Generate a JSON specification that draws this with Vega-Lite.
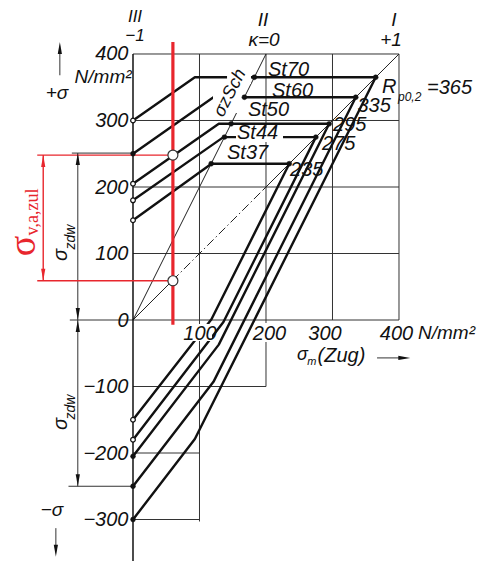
{
  "$schema": "https://vega.github.io/schema/vega-lite/v6.json",
  "width": 478,
  "height": 561,
  "autosize": {"type": "none"},
  "padding": 0,
  "background": "white",
  "config": {"view": {"stroke": null}},
  "datasets": {
    "grid": [
      {"x": 0, "y": 400, "x2": 400, "y2": 400},
      {"x": 0, "y": 300, "x2": 400, "y2": 300},
      {"x": 0, "y": 200, "x2": 400, "y2": 200},
      {"x": 0, "y": 100, "x2": 400, "y2": 100},
      {"x": -95, "y": 0, "x2": 400, "y2": 0},
      {"x": 0, "y": -100, "x2": 200, "y2": -100},
      {"x": 0, "y": -200, "x2": 100, "y2": -200},
      {"x": 0, "y": -300, "x2": 100, "y2": -300},
      {"x": 100, "y": -303, "x2": 100, "y2": 400},
      {"x": 200, "y": -100, "x2": 200, "y2": 400},
      {"x": 300, "y": 0, "x2": 300, "y2": 400},
      {"x": 400, "y": 0, "x2": 400, "y2": 400},
      {"x": -92, "y": 251, "x2": 0, "y2": 251},
      {"x": -97, "y": -250, "x2": 0, "y2": -250},
      {"x": -83, "y": 251, "x2": -83, "y2": -250},
      {"x": -110, "y": 368, "x2": -110, "y2": 405},
      {"x": -116, "y": -313, "x2": -116, "y2": -345},
      {"x": 367, "y": -57, "x2": 402, "y2": -57}
    ],
    "axisline": [
      {"x": 0, "y": -365, "x2": 0, "y2": 400}
    ],
    "thin": [
      {"x": 0, "y": 0, "x2": 200, "y2": 400},
      {"x": 0, "y": 0, "x2": 59, "y2": 59},
      {"x": 195, "y": 195, "x2": 400, "y2": 400}
    ],
    "dashed": [
      {"x": 59, "y": 59, "x2": 195, "y2": 195}
    ],
    "redmain": [
      {"x": 60, "y": -7, "x2": 60, "y2": 418}
    ],
    "reddim": [
      {"x": -144, "y": 248, "x2": 60, "y2": 248},
      {"x": -144, "y": 59, "x2": 60, "y2": 59},
      {"x": -135, "y": 248, "x2": -135, "y2": 59}
    ],
    "steel": [
      {"steel": "St70", "part": "o", "ord": 1, "x": 0, "y": 300},
      {"steel": "St70", "part": "o", "ord": 2, "x": 93, "y": 365},
      {"steel": "St70", "part": "o", "ord": 3, "x": 365, "y": 365},
      {"steel": "St70", "part": "u", "ord": 1, "x": 0, "y": -300},
      {"steel": "St70", "part": "u", "ord": 2, "x": 93, "y": -179},
      {"steel": "St70", "part": "u", "ord": 3, "x": 365, "y": 365},
      {"steel": "St60", "part": "o", "ord": 1, "x": 0, "y": 250},
      {"steel": "St60", "part": "o", "ord": 2, "x": 121, "y": 335},
      {"steel": "St60", "part": "o", "ord": 3, "x": 335, "y": 335},
      {"steel": "St60", "part": "u", "ord": 1, "x": 0, "y": -250},
      {"steel": "St60", "part": "u", "ord": 2, "x": 121, "y": -93},
      {"steel": "St60", "part": "u", "ord": 3, "x": 335, "y": 335},
      {"steel": "St50", "part": "o", "ord": 1, "x": 0, "y": 205},
      {"steel": "St50", "part": "o", "ord": 2, "x": 129, "y": 295},
      {"steel": "St50", "part": "o", "ord": 3, "x": 295, "y": 295},
      {"steel": "St50", "part": "u", "ord": 1, "x": 0, "y": -205},
      {"steel": "St50", "part": "u", "ord": 2, "x": 129, "y": -37},
      {"steel": "St50", "part": "u", "ord": 3, "x": 295, "y": 295},
      {"steel": "St44", "part": "o", "ord": 1, "x": 0, "y": 180},
      {"steel": "St44", "part": "o", "ord": 2, "x": 136, "y": 275},
      {"steel": "St44", "part": "o", "ord": 3, "x": 275, "y": 275},
      {"steel": "St44", "part": "u", "ord": 1, "x": 0, "y": -180},
      {"steel": "St44", "part": "u", "ord": 2, "x": 136, "y": -3},
      {"steel": "St44", "part": "u", "ord": 3, "x": 275, "y": 275},
      {"steel": "St37", "part": "o", "ord": 1, "x": 0, "y": 150},
      {"steel": "St37", "part": "o", "ord": 2, "x": 118, "y": 235},
      {"steel": "St37", "part": "o", "ord": 3, "x": 235, "y": 235},
      {"steel": "St37", "part": "u", "ord": 1, "x": 0, "y": -150},
      {"steel": "St37", "part": "u", "ord": 2, "x": 118, "y": 1},
      {"steel": "St37", "part": "u", "ord": 3, "x": 235, "y": 235}
    ],
    "masks": [
      {"x": 141.4, "y": 375.9, "x2": 177.4, "y2": 354.9},
      {"x": 120.3, "y": 353.4, "x2": 166.9, "y2": 311.3},
      {"x": 154.9, "y": 288.7, "x2": 225.6, "y2": 267.7},
      {"x": 82.7, "y": -6, "x2": 118.8, "y2": -31.6},
      {"x": 182, "y": -4.5, "x2": 227, "y2": -33}
    ],
    "soliddots": [
      {"x": 182.5, "y": 365}, {"x": 167.5, "y": 335}, {"x": 147.5, "y": 295}, {"x": 137.5, "y": 275}, {"x": 117.5, "y": 235},
      {"x": 365, "y": 365}, {"x": 335, "y": 335}, {"x": 295, "y": 295}, {"x": 275, "y": 275}, {"x": 235, "y": 235},
      {"x": 0, "y": 250}, {"x": 0, "y": -205}, {"x": 0, "y": -250}, {"x": 0, "y": -300}
    ],
    "opendots": [
      {"x": 0, "y": 300}, {"x": 0, "y": 205}, {"x": 0, "y": 180}, {"x": 0, "y": 150},
      {"x": 0, "y": -150}, {"x": 0, "y": -180}
    ],
    "redcircles": [
      {"x": 60, "y": 248}, {"x": 60, "y": 59}
    ],
    "blackarrows": [
      {"x": -83, "y": 242, "dir": "up"},
      {"x": -83, "y": 9, "dir": "down"},
      {"x": -83, "y": -9, "dir": "up"},
      {"x": -83, "y": -241, "dir": "down"},
      {"x": -110, "y": 409, "dir": "up"},
      {"x": -116, "y": -347, "dir": "down"},
      {"x": 408, "y": -57, "dir": "right"}
    ],
    "redarrows": [
      {"x": -135, "y": 239, "dir": "up"},
      {"x": -135, "y": 68, "dir": "down"}
    ],
    "centerlabels": [
      {"x": 195.5, "y": 451, "text": "II"},
      {"x": 197, "y": 421, "text": "κ=0"},
      {"x": 392.5, "y": 451, "text": "I"},
      {"x": 388, "y": 421, "text": "+1"},
      {"x": -45, "y": 365.4, "text": "N/mm²"},
      {"x": -114.3, "y": 341.3, "text": "+σ"},
      {"x": -121.8, "y": -285.7, "text": "−σ"}
    ],
    "smalltop": [
      {"x": 3, "y": 455.6, "text": "III"},
      {"x": 3, "y": 427, "text": "−1"}
    ],
    "leftlabels": [
      {"x": 203, "y": 375.9, "text": "St70"},
      {"x": 209, "y": 344.4, "text": "St60"},
      {"x": 172.9, "y": 315.8, "text": "St50"},
      {"x": 156.4, "y": 280.5, "text": "St44"},
      {"x": 141.4, "y": 251.5, "text": "St37"},
      {"x": 374.4, "y": 350.5, "text": "R"},
      {"x": 442.1, "y": 348.9, "text": "=365"},
      {"x": 337.5, "y": 322, "text": "335"},
      {"x": 300.8, "y": 293.2, "text": "295"},
      {"x": 284.2, "y": 264.7, "text": "275"},
      {"x": 236.1, "y": 225.6, "text": "235"},
      {"x": 277.5, "y": -54.1, "text": "(Zug)"}
    ],
    "unitlabel": [
      {"x": 428.6, "y": -19.6, "text": "N/mm²"}
    ],
    "sigmam": [
      {"x": 246.6, "y": -52.6, "text": "σ"}
    ],
    "sublabels": [
      {"x": 398.5, "y": 335.3, "text": "p0,2"}
    ],
    "msub": [
      {"x": 262, "y": -63.2, "text": "m"}
    ],
    "zschlabel": [
      {"x": 145.9, "y": 341.3, "text": "σzSch"}
    ],
    "zdwsigma": [
      {"x": -108.3, "y": 97.7, "text": "σ"},
      {"x": -108.3, "y": -156.4, "text": "σ"}
    ],
    "zdwsub": [
      {"x": -93.2, "y": 124.8, "text": "zdw"},
      {"x": -93.2, "y": -130.8, "text": "zdw"}
    ],
    "redsigma": [
      {"x": -164, "y": 111.3, "text": "σ"}
    ],
    "redsub": [
      {"x": -150.4, "y": 162.4, "text": "v,a,zul"}
    ]
  },
  "encoding": {
    "x": {
      "field": "x",
      "type": "quantitative",
      "scale": {"domain": [-200, 518.8], "nice": false, "zero": false},
      "axis": {
        "orient": "bottom",
        "offset": -241,
        "zindex": 2,
        "values": [100, 200, 300, 400],
        "domain": false,
        "ticks": false,
        "grid": false,
        "title": null,
        "labelFont": "Liberation Sans",
        "labelFontStyle": "italic",
        "labelFontSize": 20,
        "labelColor": "#111",
        "labelPadding": 3,
        "labelFlush": false,
        "labelOverlap": false,
        "labelOffset": {"condition": [{"test": "datum.value == 300", "value": -8}, {"test": "datum.value == 200", "value": 3}, {"test": "datum.value == 400", "value": -3}], "value": 0}
      }
    },
    "y": {
      "field": "y",
      "type": "quantitative",
      "scale": {"domain": [-362.4, 481.2], "nice": false, "zero": false},
      "axis": {
        "orient": "left",
        "offset": -133,
        "zindex": 2,
        "values": [-300, -200, -100, 0, 100, 200, 300, 400],
        "domain": false,
        "ticks": false,
        "grid": false,
        "title": null,
        "labelFont": "Liberation Sans",
        "labelFontStyle": "italic",
        "labelFontSize": 20,
        "labelColor": "#111",
        "labelPadding": 5,
        "labelFlush": false,
        "labelOverlap": false,
        "labelBaseline": "middle"
      }
    }
  },
  "layer": [
    {
      "data": {"name": "grid"},
      "mark": {"type": "rule", "color": "#333", "strokeWidth": 1},
      "encoding": {"x2": {"field": "x2"}, "y2": {"field": "y2"}}
    },
    {
      "data": {"name": "thin"},
      "mark": {"type": "rule", "color": "#222", "strokeWidth": 1},
      "encoding": {"x2": {"field": "x2"}, "y2": {"field": "y2"}}
    },
    {
      "data": {"name": "dashed"},
      "mark": {"type": "rule", "color": "#222", "strokeWidth": 1, "strokeDash": [9, 3, 1.5, 3]},
      "encoding": {"x2": {"field": "x2"}, "y2": {"field": "y2"}}
    },
    {
      "data": {"name": "axisline"},
      "mark": {"type": "rule", "color": "#111", "strokeWidth": 1.5},
      "encoding": {"x2": {"field": "x2"}, "y2": {"field": "y2"}}
    },
    {
      "data": {"name": "steel"},
      "mark": {"type": "line", "color": "#111", "strokeWidth": 2.4, "strokeJoin": "round", "strokeCap": "round"},
      "encoding": {
        "detail": [{"field": "steel"}, {"field": "part"}],
        "order": {"field": "ord", "type": "quantitative"}
      }
    },
    {
      "data": {"name": "masks"},
      "mark": {"type": "rect", "fill": "white", "stroke": null},
      "encoding": {"x2": {"field": "x2"}, "y2": {"field": "y2"}}
    },
    {
      "data": {"name": "reddim"},
      "mark": {"type": "rule", "color": "#e8262d", "strokeWidth": 1.4},
      "encoding": {"x2": {"field": "x2"}, "y2": {"field": "y2"}}
    },
    {
      "data": {"name": "redmain"},
      "mark": {"type": "rule", "color": "#e8262d", "strokeWidth": 3.2},
      "encoding": {"x2": {"field": "x2"}, "y2": {"field": "y2"}}
    },
    {
      "data": {"name": "soliddots"},
      "mark": {"type": "point", "shape": "circle", "filled": true, "fill": "#111", "stroke": "#111", "strokeWidth": 0.5, "size": 24, "opacity": 1}
    },
    {
      "data": {"name": "opendots"},
      "mark": {"type": "point", "shape": "circle", "filled": true, "fill": "white", "stroke": "#111", "strokeWidth": 1.2, "size": 22, "opacity": 1}
    },
    {
      "data": {"name": "redcircles"},
      "mark": {"type": "point", "shape": "circle", "filled": true, "fill": "white", "stroke": "#333", "strokeWidth": 1.2, "size": 100, "opacity": 1}
    },
    {
      "data": {"name": "blackarrows"},
      "mark": {"type": "point", "filled": true, "color": "#111", "size": 144, "opacity": 1},
      "encoding": {
        "shape": {"field": "dir", "type": "nominal", "legend": null,
          "scale": {"domain": ["up", "down", "right"], "range": ["M0,-1L0.35,1L-0.35,1Z", "M0,1L0.35,-1L-0.35,-1Z", "M1,0L-1,0.35L-1,-0.35Z"]}}
      }
    },
    {
      "data": {"name": "redarrows"},
      "mark": {"type": "point", "filled": true, "color": "#e8262d", "size": 144, "opacity": 1},
      "encoding": {
        "shape": {"field": "dir", "type": "nominal", "legend": null,
          "scale": {"domain": ["up", "down", "right"], "range": ["M0,-1L0.35,1L-0.35,1Z", "M0,1L0.35,-1L-0.35,-1Z", "M1,0L-1,0.35L-1,-0.35Z"]}}
      }
    },
    {
      "data": {"name": "centerlabels"},
      "mark": {"type": "text", "align": "center", "baseline": "middle", "font": "Liberation Sans", "fontStyle": "italic", "fontSize": 19, "color": "#111"},
      "encoding": {"text": {"field": "text"}}
    },
    {
      "data": {"name": "smalltop"},
      "mark": {"type": "text", "align": "center", "baseline": "middle", "font": "Liberation Sans", "fontStyle": "italic", "fontSize": 17, "color": "#111"},
      "encoding": {"text": {"field": "text"}}
    },
    {
      "data": {"name": "leftlabels"},
      "mark": {"type": "text", "align": "left", "baseline": "middle", "font": "Liberation Sans", "fontStyle": "italic", "fontSize": 20, "color": "#111"},
      "encoding": {"text": {"field": "text"}}
    },
    {
      "data": {"name": "unitlabel"},
      "mark": {"type": "text", "align": "left", "baseline": "middle", "font": "Liberation Sans", "fontStyle": "italic", "fontSize": 19, "color": "#111"},
      "encoding": {"text": {"field": "text"}}
    },
    {
      "data": {"name": "sigmam"},
      "mark": {"type": "text", "align": "left", "baseline": "middle", "font": "Liberation Sans", "fontStyle": "italic", "fontSize": 18, "color": "#111"},
      "encoding": {"text": {"field": "text"}}
    },
    {
      "data": {"name": "sublabels"},
      "mark": {"type": "text", "align": "left", "baseline": "middle", "font": "Liberation Sans", "fontStyle": "italic", "fontSize": 12, "color": "#111"},
      "encoding": {"text": {"field": "text"}}
    },
    {
      "data": {"name": "msub"},
      "mark": {"type": "text", "align": "left", "baseline": "middle", "font": "Liberation Sans", "fontStyle": "italic", "fontSize": 11, "color": "#111"},
      "encoding": {"text": {"field": "text"}}
    },
    {
      "data": {"name": "zschlabel"},
      "mark": {"type": "text", "align": "center", "baseline": "middle", "angle": -63, "font": "Liberation Sans", "fontStyle": "italic", "fontSize": 18, "color": "#111"},
      "encoding": {"text": {"field": "text"}}
    },
    {
      "data": {"name": "zdwsigma"},
      "mark": {"type": "text", "align": "center", "baseline": "middle", "angle": -90, "font": "Liberation Sans", "fontStyle": "italic", "fontSize": 20, "color": "#111"},
      "encoding": {"text": {"field": "text"}}
    },
    {
      "data": {"name": "zdwsub"},
      "mark": {"type": "text", "align": "center", "baseline": "middle", "angle": -90, "font": "Liberation Sans", "fontStyle": "italic", "fontSize": 14, "color": "#111"},
      "encoding": {"text": {"field": "text"}}
    },
    {
      "data": {"name": "redsigma"},
      "mark": {"type": "text", "align": "center", "baseline": "middle", "angle": -90, "font": "Liberation Serif", "fontSize": 38, "color": "#e8262d"},
      "encoding": {"text": {"field": "text"}}
    },
    {
      "data": {"name": "redsub"},
      "mark": {"type": "text", "align": "center", "baseline": "middle", "angle": -90, "font": "Liberation Serif", "fontSize": 18, "color": "#e8262d"},
      "encoding": {"text": {"field": "text"}}
    }
  ]
}
